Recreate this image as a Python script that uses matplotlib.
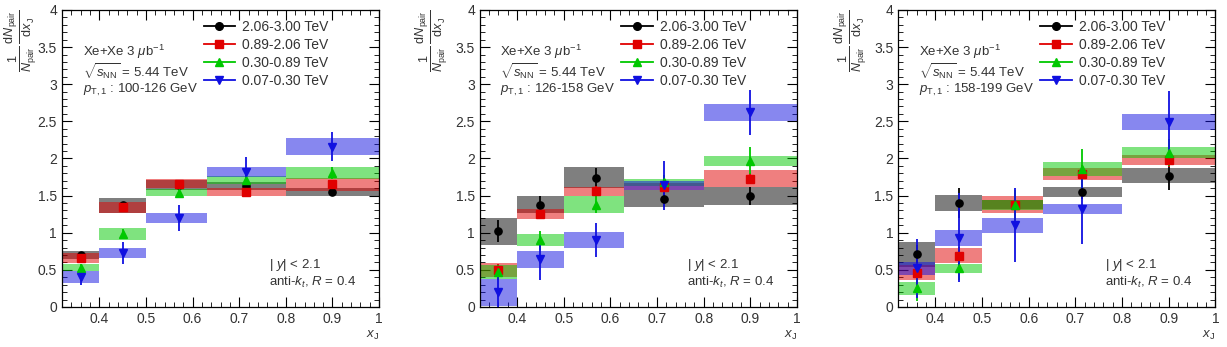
import matplotlib
matplotlib.use('Agg')
import numpy as np
import matplotlib.pyplot as plt
from matplotlib.lines import Line2D
from matplotlib.ticker import MultipleLocator, FuncFormatter

plt.rcParams['font.family'] = ['Liberation Sans', 'DejaVu Sans']
plt.rcParams['mathtext.fontset'] = 'custom'
plt.rcParams['mathtext.rm'] = 'Liberation Sans'
plt.rcParams['mathtext.it'] = 'Liberation Sans:italic'

# x_J binning and bin centres
edges = [0.32, 0.40, 0.50, 0.63, 0.80, 1.00]
centers = [0.36, 0.45, 0.57, 0.715, 0.90]

labels = ['2.06-3.00 TeV', '0.89-2.06 TeV', '0.30-0.89 TeV', '0.07-0.30 TeV']
pt_ranges = ['100-126 GeV', '126-158 GeV', '158-199 GeV']

# values per panel: rows = black, red, green, blue
val_100 = [[0.70, 1.37, 1.64, 1.63, 1.55],
           [0.66, 1.34, 1.66, 1.55, 1.65],
           [0.53, 0.98, 1.54, 1.71, 1.81],
           [0.40, 0.73, 1.20, 1.82, 2.16]]
stat_100 = [[0.04, 0.05, 0.05, 0.06, 0.05],
            [0.04, 0.05, 0.05, 0.05, 0.06],
            [0.05, 0.07, 0.06, 0.07, 0.08],
            [0.10, 0.15, 0.17, 0.20, 0.20]]
sys_100 = [[0.06, 0.10, 0.07, 0.05, 0.05],
           [0.07, 0.08, 0.06, 0.05, 0.09],
           [0.05, 0.08, 0.05, 0.05, 0.08],
           [0.08, 0.07, 0.07, 0.07, 0.11]]

val_126 = [[1.02, 1.38, 1.74, 1.46, 1.49],
           [0.50, 1.25, 1.56, 1.62, 1.73],
           [0.47, 0.90, 1.38, 1.68, 1.97],
           [0.20, 0.64, 0.90, 1.64, 2.62]]
stat_126 = [[0.15, 0.12, 0.13, 0.12, 0.12],
            [0.08, 0.07, 0.07, 0.06, 0.07],
            [0.10, 0.13, 0.12, 0.10, 0.18],
            [0.20, 0.27, 0.23, 0.33, 0.30]]
sys_126 = [[0.18, 0.11, 0.14, 0.11, 0.12],
           [0.09, 0.07, 0.06, 0.05, 0.11],
           [0.09, 0.08, 0.11, 0.05, 0.07],
           [0.18, 0.12, 0.11, 0.06, 0.12]]

val_158 = [[0.71, 1.40, 1.38, 1.55, 1.77],
           [0.46, 0.69, 1.38, 1.79, 1.98],
           [0.25, 0.52, 1.37, 1.86, 2.08],
           [0.52, 0.93, 1.10, 1.32, 2.49]]
stat_158 = [[0.12, 0.20, 0.10, 0.10, 0.20],
            [0.10, 0.12, 0.15, 0.12, 0.10],
            [0.17, 0.15, 0.20, 0.27, 0.18],
            [0.40, 0.60, 0.50, 0.47, 0.42]]
sys_158 = [[0.17, 0.11, 0.06, 0.07, 0.10],
           [0.10, 0.10, 0.11, 0.08, 0.07],
           [0.09, 0.06, 0.07, 0.09, 0.08],
           [0.09, 0.11, 0.10, 0.07, 0.11]]

panels = [(val_100, stat_100, sys_100),
          (val_126, stat_126, sys_126),
          (val_158, stat_158, sys_158)]

colors = ['black', '#e00000', '#00c800', '#1010e0']
markers = ['o', 's', '^', 'v']
txt = '#333333'

fig = plt.figure(figsize=(12.27, 3.47), dpi=100)
lefts = [0.0505, 0.391, 0.732]
ylabel_x = [-0.128, -0.15, -0.15]

widths = np.diff(edges)
for i, (vals, stats, syss) in enumerate(panels):
    ax = fig.add_axes([lefts[i], 0.1153, 0.2585, 0.856])

    # systematic boxes
    for j in range(4):
        v = np.array(vals[j])
        s = np.array(syss[j])
        ax.bar(edges[:-1], 2 * s, bottom=v - s, width=widths, align='edge',
               color=colors[j], alpha=0.5, linewidth=0, zorder=2)
    # points with statistical errors
    for j in range(4):
        ax.errorbar(centers, vals[j], yerr=stats[j], fmt=markers[j], color=colors[j],
                    ms=5.2, elinewidth=1.3, capsize=0, zorder=4)

    ax.set_xlim(0.32, 1.0)
    ax.set_ylim(0, 4)
    ax.xaxis.set_major_locator(MultipleLocator(0.1))
    ax.xaxis.set_minor_locator(MultipleLocator(0.02))
    ax.yaxis.set_major_locator(MultipleLocator(0.5))
    ax.yaxis.set_minor_locator(MultipleLocator(0.1))
    ax.yaxis.set_major_formatter(FuncFormatter(lambda y, p: f'{y:g}'))
    ax.xaxis.set_major_formatter(FuncFormatter(lambda x, p: '' if x < 0.35 else f'{x:g}'))
    ax.tick_params(which='both', direction='in', top=True, right=True, labelsize=10,
                   labelcolor=txt)
    ax.tick_params(which='major', length=7)
    ax.tick_params(which='minor', length=3.5)
    for sp in ax.spines.values():
        sp.set_linewidth(0.9)

    ax.text(1.0, -0.075, r'$x_{\rm J}$', transform=ax.transAxes, ha='right', va='top',
            fontsize=9.5, color=txt)
    ax.text(ylabel_x[i], 1.0,
            r'$\frac{1}{N_{\rm pair}}\,\frac{{\rm d}N_{\rm pair}}{{\rm d}x_{\rm J}}$',
            transform=ax.transAxes, rotation=90, ha='center', va='top', fontsize=13,
            color=txt)

    ax.text(0.065, 0.859, r'Xe+Xe 3 $\mu$b$^{-1}$', transform=ax.transAxes, fontsize=9.5,
            va='center', color=txt)
    ax.text(0.065, 0.791, r'$\sqrt{s_{\rm NN}}$ = 5.44 TeV', transform=ax.transAxes,
            fontsize=9.5, va='center', color=txt)
    ax.text(0.065, 0.731, r'$p_{\rm T,1}$ : ' + pt_ranges[i], transform=ax.transAxes,
            fontsize=9.5, va='center', color=txt)
    ax.text(0.652, 0.141, r'| $y$| < 2.1', transform=ax.transAxes, fontsize=9.5,
            va='center', color=txt)
    ax.text(0.652, 0.081, r'anti-$k_{t}$, $R$ = 0.4', transform=ax.transAxes, fontsize=9.5,
            va='center', color=txt)

    handles = [Line2D([], [], color=colors[j], marker=markers[j], ms=5.5, lw=1.3)
               for j in range(4)]
    ax.legend(handles, labels, loc='upper left', bbox_to_anchor=(0.42, 0.995),
              frameon=False, fontsize=10, handlelength=2.3, handletextpad=0.5,
              labelspacing=0.3, borderaxespad=0.2, labelcolor=txt)

fig.savefig('out.png', dpi=100)
